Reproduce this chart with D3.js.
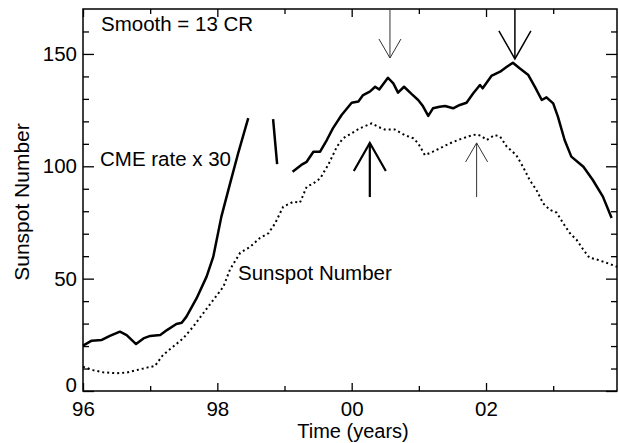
<!DOCTYPE html>
<html>
<head>
<meta charset="utf-8">
<script src="https://cdn.jsdelivr.net/npm/d3@7"></script>
<style>
  body { margin: 0; background: #fff; }
  svg text { font-family: "Liberation Sans", Arial, sans-serif; fill: #000; }
</style>
</head>
<body>
<div id="chart"></div>
<script>
// CME rate x 30 (null = data gap)
const cmeTime = [1996.00, 1996.13, 1996.28, 1996.40, 1996.55, 1996.65, 1996.79, 1996.90, 1997.00, 1997.15,
  1997.25, 1997.39, 1997.47, 1997.54, 1997.69, 1997.84, 1997.94, 1998.06, 1998.19, 1998.31, 1998.46,
  1998.60,
  1998.83, 1998.89,
  1999.00,
  1999.12, 1999.25, 1999.33, 1999.43, 1999.53, 1999.63, 1999.72, 1999.85, 2000.00, 2000.10, 2000.17,
  2000.27, 2000.35, 2000.41, 2000.54, 2000.62, 2000.69, 2000.78, 2000.89, 2000.99, 2001.06, 2001.14,
  2001.21, 2001.31, 2001.39, 2001.51, 2001.61, 2001.71, 2001.81, 2001.91, 2001.95, 2002.08, 2002.21,
  2002.31, 2002.40, 2002.50, 2002.63, 2002.73, 2002.83, 2002.90, 2003.00, 2003.07, 2003.17, 2003.27,
  2003.45, 2003.59, 2003.74, 2003.87];
const cmeRate = [20.2, 22.4, 22.7, 24.5, 26.4, 24.9, 20.9, 23.4, 24.5, 24.9,
  27.1, 29.8, 30.4, 33.1, 41.2, 50.9, 59.8, 77.6, 92.4, 105.8, 121.4,
  null,
  121.0, 101.0,
  null,
  97.6, 100.6, 102.0, 106.5, 106.5, 111.7, 116.9, 122.8, 128.3, 128.8, 131.7,
  133.2, 135.4, 134.2, 139.4, 136.9, 132.8, 135.4, 132.2, 129.5, 126.8, 122.4,
  125.8, 126.5, 126.8, 125.8, 127.3, 128.3, 132.5, 136.2, 134.7, 140.2, 142.1,
  144.3, 146.1, 143.6, 140.6, 135.2, 129.5, 130.7, 128.0, 122.1, 111.7, 104.3,
  99.8, 93.9, 86.5, 77.0];

// Sunspot number
const ssnTime = [1996.00, 1996.15, 1996.30, 1996.50, 1996.65, 1996.80, 1996.95, 1997.07, 1997.19, 1997.34,
  1997.49, 1997.64, 1997.79, 1997.94, 1998.09, 1998.19, 1998.34, 1998.49, 1998.63, 1998.76, 1998.86,
  1998.98, 1999.13, 1999.23, 1999.33, 1999.43, 1999.53, 1999.65, 1999.78, 1999.87, 2000.00, 2000.12,
  2000.30, 2000.39, 2000.49, 2000.64, 2000.79, 2000.92, 2000.99, 2001.09, 2001.21, 2001.36, 2001.46,
  2001.61, 2001.76, 2001.86, 2001.93, 2002.01, 2002.13, 2002.21, 2002.31, 2002.45, 2002.55, 2002.65,
  2002.75, 2002.85, 2002.95, 2003.05, 2003.15, 2003.25, 2003.35, 2003.45, 2003.54, 2003.64, 2003.79,
  2003.95];
const ssnValue = [10.8, 9.3, 8.3, 7.9, 8.2, 9.3, 10.4, 11.1, 16.0, 19.7,
  23.4, 28.6, 34.6, 40.5, 46.4, 54.2, 61.5, 64.2, 68.0, 70.2, 74.6,
  82.0, 84.2, 83.8, 90.9, 92.4, 94.6, 100.6, 108.7, 112.4, 114.7, 116.9,
  119.1, 117.6, 116.4, 116.4, 113.9, 112.4, 110.2, 105.0, 106.5, 108.7, 110.2,
  112.0, 113.5, 114.2, 113.5, 111.7, 113.9, 113.2, 108.7, 105.0, 99.8, 93.9,
  89.5, 83.5, 80.6, 79.4, 74.6, 70.2, 67.2, 62.8, 59.3, 58.6, 57.1,
  55.3];

// axis ticks
const xMajor = [1996, 1998, 2000, 2002];
const xMajorLabels = ['96', '98', '00', '02'];
const xMinor = [1997, 1999, 2001, 2003];
const yMajor = [0, 50, 100, 150];
const yMinor = [10, 20, 30, 40, 60, 70, 80, 90, 110, 120, 130, 140, 160];

// arrows: time, tail value, tip value, line weight
const arrowTime = [2000.57, 2002.43, 2000.27, 2001.86];
const arrowFrom = [170, 170, 86.3, 86.3];
const arrowTo = [148.2, 147.8, 110.4, 110.4];
const arrowHeavy = [false, true, true, false];

const width = 619, height = 443;
const margin = { top: 9, right: 2, bottom: 52, left: 83 };
const fontSize = '20.5px';

const svg = d3.select('#chart').append('svg')
  .attr('width', width)
  .attr('height', height);

const x = d3.scaleLinear().domain([1996, 2003.95]).range([margin.left, width - margin.right]);
const y = d3.scaleLinear().domain([0, 170]).range([height - margin.bottom, margin.top]);

const plotW = x.range()[1] - x.range()[0];
const plotH = y.range()[0] - y.range()[1];

// frame
svg.append('rect')
  .attr('x', margin.left).attr('y', margin.top)
  .attr('width', plotW).attr('height', plotH)
  .attr('fill', 'none').attr('stroke', '#000').attr('stroke-width', 1.5);

function styleAxis(g) {
  g.select('.domain').remove();
  g.selectAll('.tick line').attr('stroke', '#000').attr('stroke-width', 1.3);
  g.selectAll('.tick text').style('font-size', fontSize);
}

// bottom axis
svg.append('g')
  .attr('transform', `translate(0,${y(0)})`)
  .call(d3.axisBottom(x).tickValues(xMajor).tickFormat((d, i) => xMajorLabels[i])
    .tickSizeInner(-8).tickSizeOuter(0).tickPadding(10))
  .call(styleAxis);
svg.append('g')
  .attr('transform', `translate(0,${y(0)})`)
  .call(d3.axisBottom(x).tickValues(xMinor).tickFormat('').tickSizeInner(-5).tickSizeOuter(0))
  .call(styleAxis);
// top axis
svg.append('g')
  .attr('transform', `translate(0,${y(170)})`)
  .call(d3.axisTop(x).tickValues(xMajor).tickFormat('').tickSizeInner(-8).tickSizeOuter(0))
  .call(styleAxis);
svg.append('g')
  .attr('transform', `translate(0,${y(170)})`)
  .call(d3.axisTop(x).tickValues(xMinor).tickFormat('').tickSizeInner(-5).tickSizeOuter(0))
  .call(styleAxis);
// left axis
const yAxisG = svg.append('g')
  .attr('transform', `translate(${x(1996)},0)`)
  .call(d3.axisLeft(y).tickValues(yMajor).tickFormat(d3.format('d'))
    .tickSizeInner(-11).tickSizeOuter(0).tickPadding(6))
  .call(styleAxis);
// the "0" label sits a little above the bottom axis
yAxisG.selectAll('.tick text').filter(d => d === 0).attr('y', -6);
svg.append('g')
  .attr('transform', `translate(${x(1996)},0)`)
  .call(d3.axisLeft(y).tickValues(yMinor).tickFormat('').tickSizeInner(-6).tickSizeOuter(0))
  .call(styleAxis);
// right axis
svg.append('g')
  .attr('transform', `translate(${x(2003.95)},0)`)
  .call(d3.axisRight(y).tickValues(yMajor).tickFormat('').tickSizeInner(-11).tickSizeOuter(0))
  .call(styleAxis);
svg.append('g')
  .attr('transform', `translate(${x(2003.95)},0)`)
  .call(d3.axisRight(y).tickValues(yMinor).tickFormat('').tickSizeInner(-6).tickSizeOuter(0))
  .call(styleAxis);

// lines
const line = d3.line()
  .defined(d => d[1] !== null)
  .x(d => x(d[0]))
  .y(d => y(d[1]));

svg.append('path')
  .datum(ssnTime.map((t, i) => [t, ssnValue[i]]))
  .attr('fill', 'none')
  .attr('stroke', '#000')
  .attr('stroke-width', 2)
  .attr('stroke-dasharray', '2,3')
  .attr('d', line);

svg.append('path')
  .datum(cmeTime.map((t, i) => [t, cmeRate[i]]))
  .attr('fill', 'none')
  .attr('stroke', '#000')
  .attr('stroke-width', 2.5)
  .attr('stroke-linejoin', 'round')
  .attr('d', line);

// arrows
arrowTime.forEach((t, i) => {
  const heavy = arrowHeavy[i];
  const x0 = x(t), yTail = y(arrowFrom[i]), yTip = y(arrowTo[i]);
  const dir = yTip > yTail ? 1 : -1; // 1 = pointing down
  const half = heavy ? 16 : 11;
  const len = heavy ? 28 : 19;
  const g = svg.append('g')
    .attr('stroke', heavy ? '#000' : '#333')
    .attr('stroke-width', heavy ? (dir > 0 ? 1.5 : 2.2) : 1)
    .attr('fill', 'none');
  g.append('line').attr('x1', x0).attr('x2', x0).attr('y1', yTail).attr('y2', yTip);
  g.append('path')
    .attr('d', `M${x0 - half},${yTip - dir * len}L${x0},${yTip}L${x0 + half},${yTip - dir * len}`);
});

// labels
svg.append('text').attr('x', 101).attr('y', 30.5).style('font-size', fontSize).text('Smooth = 13 CR');
svg.append('text').attr('x', 100).attr('y', 166).style('font-size', fontSize).text('CME rate x 30');
svg.append('text').attr('x', 238).attr('y', 280).style('font-size', fontSize).text('Sunspot Number');

svg.append('text')
  .attr('x', 353)
  .attr('y', 438)
  .attr('text-anchor', 'middle')
  .style('font-size', '20px')
  .text('Time (years)');

svg.append('text')
  .attr('transform', `translate(28.5,202) rotate(-90)`)
  .attr('text-anchor', 'middle')
  .style('font-size', '21px')
  .text('Sunspot Number');
</script>
</body>
</html>
